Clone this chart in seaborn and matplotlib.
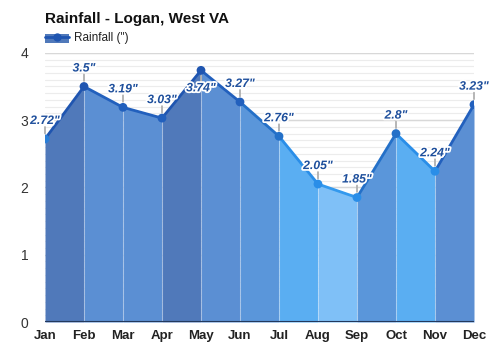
import matplotlib
matplotlib.use("Agg")
import matplotlib.pyplot as plt
import matplotlib.patheffects as pe
import seaborn as sns
import pandas as pd
import numpy as np

months = ["Jan", "Feb", "Mar", "Apr", "May", "Jun", "Jul", "Aug", "Sep", "Oct", "Nov", "Dec"]
rainfall = [2.72, 3.5, 3.19, 3.03, 3.74, 3.27, 2.76, 2.05, 1.85, 2.8, 2.24, 3.23]
labels = ['2.72"', '3.5"', '3.19"', '3.03"', '3.74"', '3.27"', '2.76"', '2.05"', '1.85"', '2.8"', '2.24"', '3.23"']
yticks = [0, 1, 2, 3, 4]

# fill colours per segment (between month i and i+1)
fill_cols = ["#5079ba", "#5b8fd3", "#5b8fd3", "#5079ba", "#5b8fd3", "#5a96da",
             "#5aaef2", "#7fc0f7", "#5a96da", "#5aaef2", "#5b8fd3"]
line_cols = ["#1f55b0", "#2260bd", "#2260bd", "#1f55b0", "#2260bd", "#2470c8",
             "#2a8ee8", "#3399ee", "#2470c8", "#2a8ee8", "#2260bd"]
point_cols = ["#2a7fd8", "#1f55b0", "#2260bd", "#2260bd", "#1f55b0", "#2260bd",
              "#2470c8", "#2a8ee8", "#2a8ee8", "#2470c8", "#2a8ee8", "#2260bd"]

sns.set_theme(style="white")
plt.rcParams['font.family'] = ['Liberation Sans', 'DejaVu Sans']

fig = plt.figure(figsize=(5, 3.5), dpi=100)
ax = fig.add_axes([0.09, 0.08, 0.858, 0.769])

x = np.arange(len(months))
df = pd.DataFrame({"x": x, "rain": rainfall})

# grid
for v in np.arange(0.1, 4.01, 0.1):
    ax.axhline(v, color="#ececec", lw=0.8, zorder=0)
for v in yticks[1:]:
    ax.axhline(v, color="#d8d8d8", lw=1.0, zorder=0)

for i in range(len(months) - 1):
    seg = df.iloc[i:i + 2]
    ax.fill_between(seg["x"], 0, seg["rain"], color=fill_cols[i], lw=0, zorder=1)
    sns.lineplot(data=seg, x="x", y="rain", color=line_cols[i], lw=2, ax=ax, zorder=3)

for i in range(1, len(months) - 1):
    ax.plot([i, i], [0, rainfall[i]], color="white", alpha=0.3, lw=0.8, zorder=2)

sns.scatterplot(data=df, x="x", y="rain", hue="x", palette=point_cols, legend=False,
                s=40, edgecolor="none", ax=ax, zorder=4)

for i, (v, lab) in enumerate(zip(rainfall, labels)):
    sign = -1 if v == max(rainfall) else 1
    ax.annotate("", xy=(i, v), xycoords="data",
                xytext=(0, sign * 12), textcoords="offset pixels",
                arrowprops=dict(arrowstyle="-", color="#b0b0b0", lw=1.3,
                                shrinkA=0, shrinkB=4), zorder=2, annotation_clip=False)
    ax.annotate(lab, xy=(i, v), xycoords="data",
                xytext=(0, sign * 12), textcoords="offset pixels",
                ha="center", va="bottom" if sign > 0 else "top",
                fontsize=8.8, fontweight="bold", fontstyle="italic", color="#1e4f9c",
                zorder=5, annotation_clip=False,
                path_effects=[pe.withStroke(linewidth=2.5, foreground="white")])

ax.axhline(0, color="#23395d", lw=1.5, zorder=5)

ax.set_xlim(0, 11)
ax.set_ylim(0, 4)
ax.set_xticks(x)
ax.set_xticklabels(months, fontweight="bold", fontsize=9.5, color="#222222")
ax.set_yticks(yticks)
ax.set_yticklabels([str(t) for t in yticks], fontsize=10, color="#333333")
ax.tick_params(axis="both", length=0, pad=6)
ax.tick_params(axis="y", pad=12)
for s in ax.spines.values():
    s.set_visible(False)
ax.set_xlabel("")
ax.set_ylabel("")

fig.text(0.09, 0.945, "Rainfall - Logan, West VA", fontsize=11, fontweight="bold",
         color="#111111", ha="left", va="center")

# legend
lx0, lx1, ly = 0.09, 0.138, 0.89
fig.patches.append(plt.Rectangle((lx0, ly - 0.012), lx1 - lx0, 0.024, transform=fig.transFigure,
                                 color="#5079ba", lw=0))
fig.lines.append(plt.Line2D([lx0, lx1], [ly + 0.004, ly + 0.004], transform=fig.transFigure,
                            color="#1f55b0", lw=2))
fig.lines.append(plt.Line2D([(lx0 + lx1) / 2], [ly + 0.004], transform=fig.transFigure,
                            marker="o", color="#1f55b0", markersize=5))
fig.text(0.148, ly, 'Rainfall (")', fontsize=8.5, color="#222222", ha="left", va="center")

fig.savefig("out.png", dpi=100)
